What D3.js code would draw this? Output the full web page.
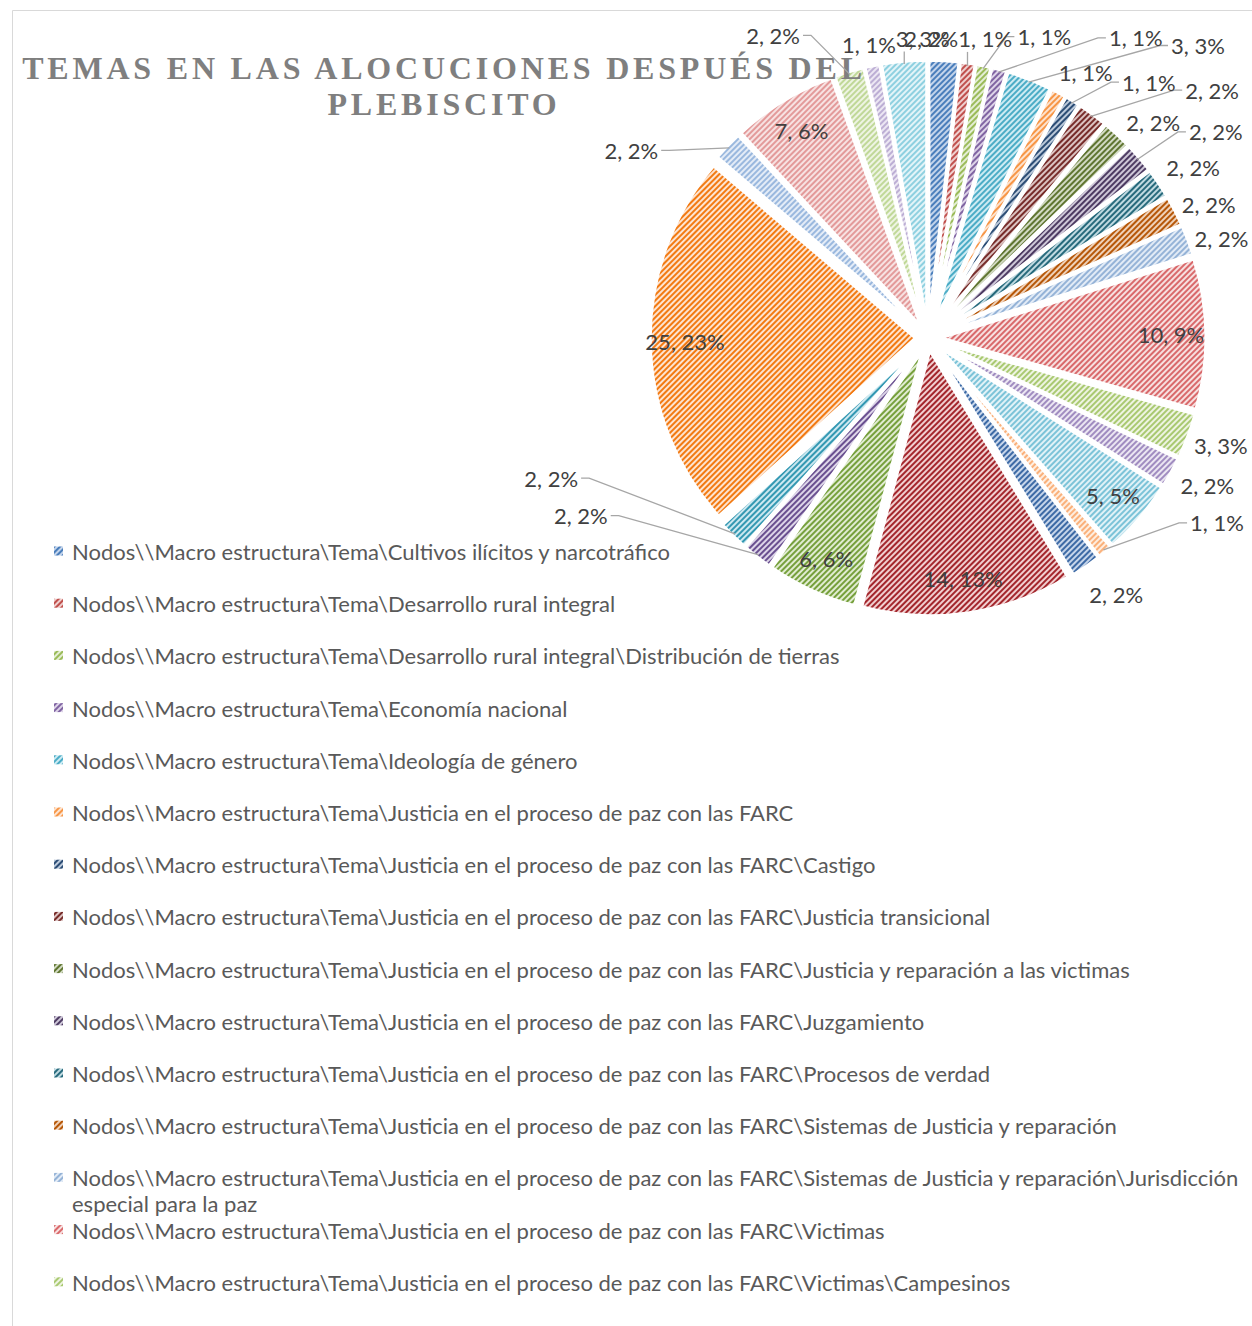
<!DOCTYPE html>
<html><head><meta charset="utf-8">
<script src="https://cdn.jsdelivr.net/npm/d3@7"></script>
<style>html,body{margin:0;padding:0;background:#fff}svg{display:block}</style>
</head><body>
<svg id="chart" width="1252" height="1326"></svg>
<script>
// ---------------- DATA ----------------
const titleLines = ["TEMAS EN LAS ALOCUCIONES DESPUÉS DEL", "PLEBISCITO"];
const categories = [
  "Nodos\\\\Macro estructura\\Tema\\Cultivos ilícitos y narcotráfico",
  "Nodos\\\\Macro estructura\\Tema\\Desarrollo rural integral",
  "Nodos\\\\Macro estructura\\Tema\\Desarrollo rural integral\\Distribución de tierras",
  "Nodos\\\\Macro estructura\\Tema\\Economía nacional",
  "Nodos\\\\Macro estructura\\Tema\\Ideología de género",
  "Nodos\\\\Macro estructura\\Tema\\Justicia en el proceso de paz con las FARC",
  "Nodos\\\\Macro estructura\\Tema\\Justicia en el proceso de paz con las FARC\\Castigo",
  "Nodos\\\\Macro estructura\\Tema\\Justicia en el proceso de paz con las FARC\\Justicia transicional",
  "Nodos\\\\Macro estructura\\Tema\\Justicia en el proceso de paz con las FARC\\Justicia y reparación a las victimas",
  "Nodos\\\\Macro estructura\\Tema\\Justicia en el proceso de paz con las FARC\\Juzgamiento",
  "Nodos\\\\Macro estructura\\Tema\\Justicia en el proceso de paz con las FARC\\Procesos de verdad",
  "Nodos\\\\Macro estructura\\Tema\\Justicia en el proceso de paz con las FARC\\Sistemas de Justicia y reparación",
  "Nodos\\\\Macro estructura\\Tema\\Justicia en el proceso de paz con las FARC\\Sistemas de Justicia y reparación\\Jurisdicción especial para la paz",
  "Nodos\\\\Macro estructura\\Tema\\Justicia en el proceso de paz con las FARC\\Victimas",
  "Nodos\\\\Macro estructura\\Tema\\Justicia en el proceso de paz con las FARC\\Victimas\\Campesinos",
  // categories 16-29 are not visible in the (truncated) legend of the source
  "(categoría 16)", "(categoría 17)", "(categoría 18)", "(categoría 19)", "(categoría 20)",
  "(categoría 21)", "(categoría 22)", "(categoría 23)", "(categoría 24)", "(categoría 25)",
  "(categoría 26)", "(categoría 27)", "(categoría 28)", "(categoría 29)"
];
const values = [2,1,1,1,3,1,1,2,2,2,2,2,2,10,3,2,5,1,2,14,6,2,2,25,2,7,2,1,3];

// ---------------- STYLE ----------------
const fgColors = [
  "#4a7ebb","#c0504d","#9bbb59","#8064a2","#4bacc6","#f79646",
  "#2c4d75","#772c2a","#5f7530","#4d3b62","#276a7c","#b65708",
  "#95b3d7","#d9696b","#a9c971","#a08cc0","#7cc3d8","#fab07a",
  "#3d6aa5","#a3262c","#76a03c","#6a5090","#3398b2","#f27a12",
  "#9ab8de","#e39a9a","#c0d898","#bcaed4","#8ed0e0"
];
const bgColors = [
  "#c3d4eb","#efd0cf","#e4eed5","#ddd3e8","#cdebf3","#fde3cf",
  "#bccadb","#dcc3c2","#d2dac3","#cec7d8","#c0dae1","#efd1b8",
  "#e2ebf6","#f7e0e0","#eef4e2","#ebe6f2","#e1f2f7","#feeee0",
  "#c6d5ea","#f1cfd0","#e1ecd2","#ddd5e8","#cce8f0","#fde4d1",
  "#e4ecf7","#f7e2e2","#eef4e3","#ece7f3","#e3f4f8"
];
// label layout: null = inside; otherwise [angle(deg), radius(px), leader line]
const labelLayout = [
  [0.6,300,false],[10.8,305,true],[21.1,323,true],[34.7,365,true],[42.7,398,true],
  [30.7,309,false],[40.8,338,true],[48.9,377,true],[46.2,312,false],[54.4,354,true],
  [57.3,315,false],[64.5,311,false],[71.2,310,false],null,[110.2,312,false],
  [117.9,316,false],null,[122.6,343,true],[143.7,318,false],null,
  null,[242.9,390,true],[249.6,402,true],null,[302.3,351,true],
  null,[332.9,340,true],[348.6,299,false],[359,300,true]
];

const W = 1252, H = 1326;
const cx = 928, cy = 338, R = 266, explode = 12, insideR = 231;
const labelFont = "Lato, 'Open Sans', sans-serif";

const svg = d3.select("#chart");
const defs = svg.append("defs");

values.forEach((v, i) => {
  const p = defs.append("pattern").attr("id", "pat" + i)
    .attr("patternUnits", "userSpaceOnUse").attr("width", 4).attr("height", 4)
    .attr("patternTransform", "rotate(45)");
  p.append("rect").attr("width", 4).attr("height", 4).attr("fill", bgColors[i]);
  p.append("rect").attr("width", 2).attr("height", 4).attr("fill", fgColors[i]);
});

// frame
svg.append("path").attr("d", `M12.5,${H} V10.5 H${W}`).attr("fill", "none")
  .attr("stroke", "#d9d9d9").attr("stroke-width", 1);

// pie
const total = d3.sum(values);
const pie = d3.pie().sort(null).value(d => d).startAngle(0).endAngle(2 * Math.PI);
const arcs = pie(values);
const arc = d3.arc().innerRadius(0).outerRadius(R);
const polar = (aRad, r) => [cx + r * Math.sin(aRad), cy - r * Math.cos(aRad)];
const mid = d => (d.startAngle + d.endAngle) / 2;

const g = svg.append("g");
g.selectAll("path.slice").data(arcs).join("path").attr("class", "slice")
  .attr("transform", d => `translate(${cx + explode * Math.sin(mid(d))},${cy - explode * Math.cos(mid(d))})`)
  .attr("d", arc)
  .attr("fill", (d, i) => `url(#pat${i})`)
  .attr("stroke", "#fff").attr("stroke-width", 3.5).attr("stroke-linejoin", "round");

// title (drawn above the plot area)
const title = svg.append("text").attr("text-anchor", "middle")
  .attr("font-family", "'Liberation Serif', 'Times New Roman', serif")
  .attr("font-weight", "bold").attr("font-size", 32).attr("letter-spacing", 3.8)
  .attr("fill", "#7f7f7f");
titleLines.forEach((t, i) => title.append("tspan").attr("x", 444).attr("y", 79 + i * 36).text(t));

// labels
const fmt = v => `${v}, ${Math.round(v / total * 100)}%`;
const lg = svg.append("g");
arcs.forEach((d, i) => {
  const lay = labelLayout[i];
  let pos;
  if (!lay) pos = polar(mid(d), insideR + explode);
  else pos = polar(lay[0] * Math.PI / 180, lay[1]);
  const t = lg.append("text").attr("x", pos[0]).attr("y", pos[1])
    .attr("text-anchor", "middle").attr("dominant-baseline", "central")
    .attr("font-family", labelFont).attr("font-size", 22).attr("fill", "#404040")
    .text(fmt(d.value));
  if (lay && lay[2]) {
    const bb = t.node().getBBox();
    const anchor = polar(mid(d), R + explode - 3);
    let pts;
    if (anchor[0] < bb.x) {
      const sx = bb.x - 3, sy = bb.y + bb.height / 2;
      pts = [[sx, sy], [sx - 8, sy], anchor];
    } else if (anchor[0] > bb.x + bb.width) {
      const sx = bb.x + bb.width + 3, sy = bb.y + bb.height / 2;
      pts = [[sx, sy], [sx + 8, sy], anchor];
    } else {
      const sy = anchor[1] > pos[1] ? bb.y + bb.height : bb.y;
      pts = [[anchor[0], sy], anchor];
    }
    lg.insert("path", ":first-child").attr("d", d3.line()(pts)).attr("fill", "none")
      .attr("stroke", "#a6a6a6").attr("stroke-width", 1.3);
  }
});

// legend
const legX = 54, legY0 = 551, legStep = 52.2, legMaxW = 1180;
const leg = svg.append("g");
categories.forEach((c, i) => {
  const y = legY0 + i * legStep;
  if (y + 12 > H) return;
  leg.append("rect").attr("x", legX).attr("y", y - 4.5).attr("width", 9).attr("height", 9)
    .attr("fill", `url(#pat${i})`);
  const t = leg.append("text").attr("x", legX + 18).attr("y", y)
    .attr("dominant-baseline", "central").attr("font-family", labelFont)
    .attr("font-size", 22).attr("fill", "#595959");
  const words = c.split(" ");
  let line = [], tspan = t.append("tspan").attr("x", legX + 18).attr("dy", 0);
  words.forEach(w => {
    line.push(w);
    tspan.text(line.join(" "));
    if (tspan.node().getComputedTextLength() > legMaxW && line.length > 1) {
      line.pop(); tspan.text(line.join(" "));
      line = [w];
      tspan = t.append("tspan").attr("x", legX + 18).attr("dy", 26).text(w);
    }
  });
});
</script>
</body></html>
